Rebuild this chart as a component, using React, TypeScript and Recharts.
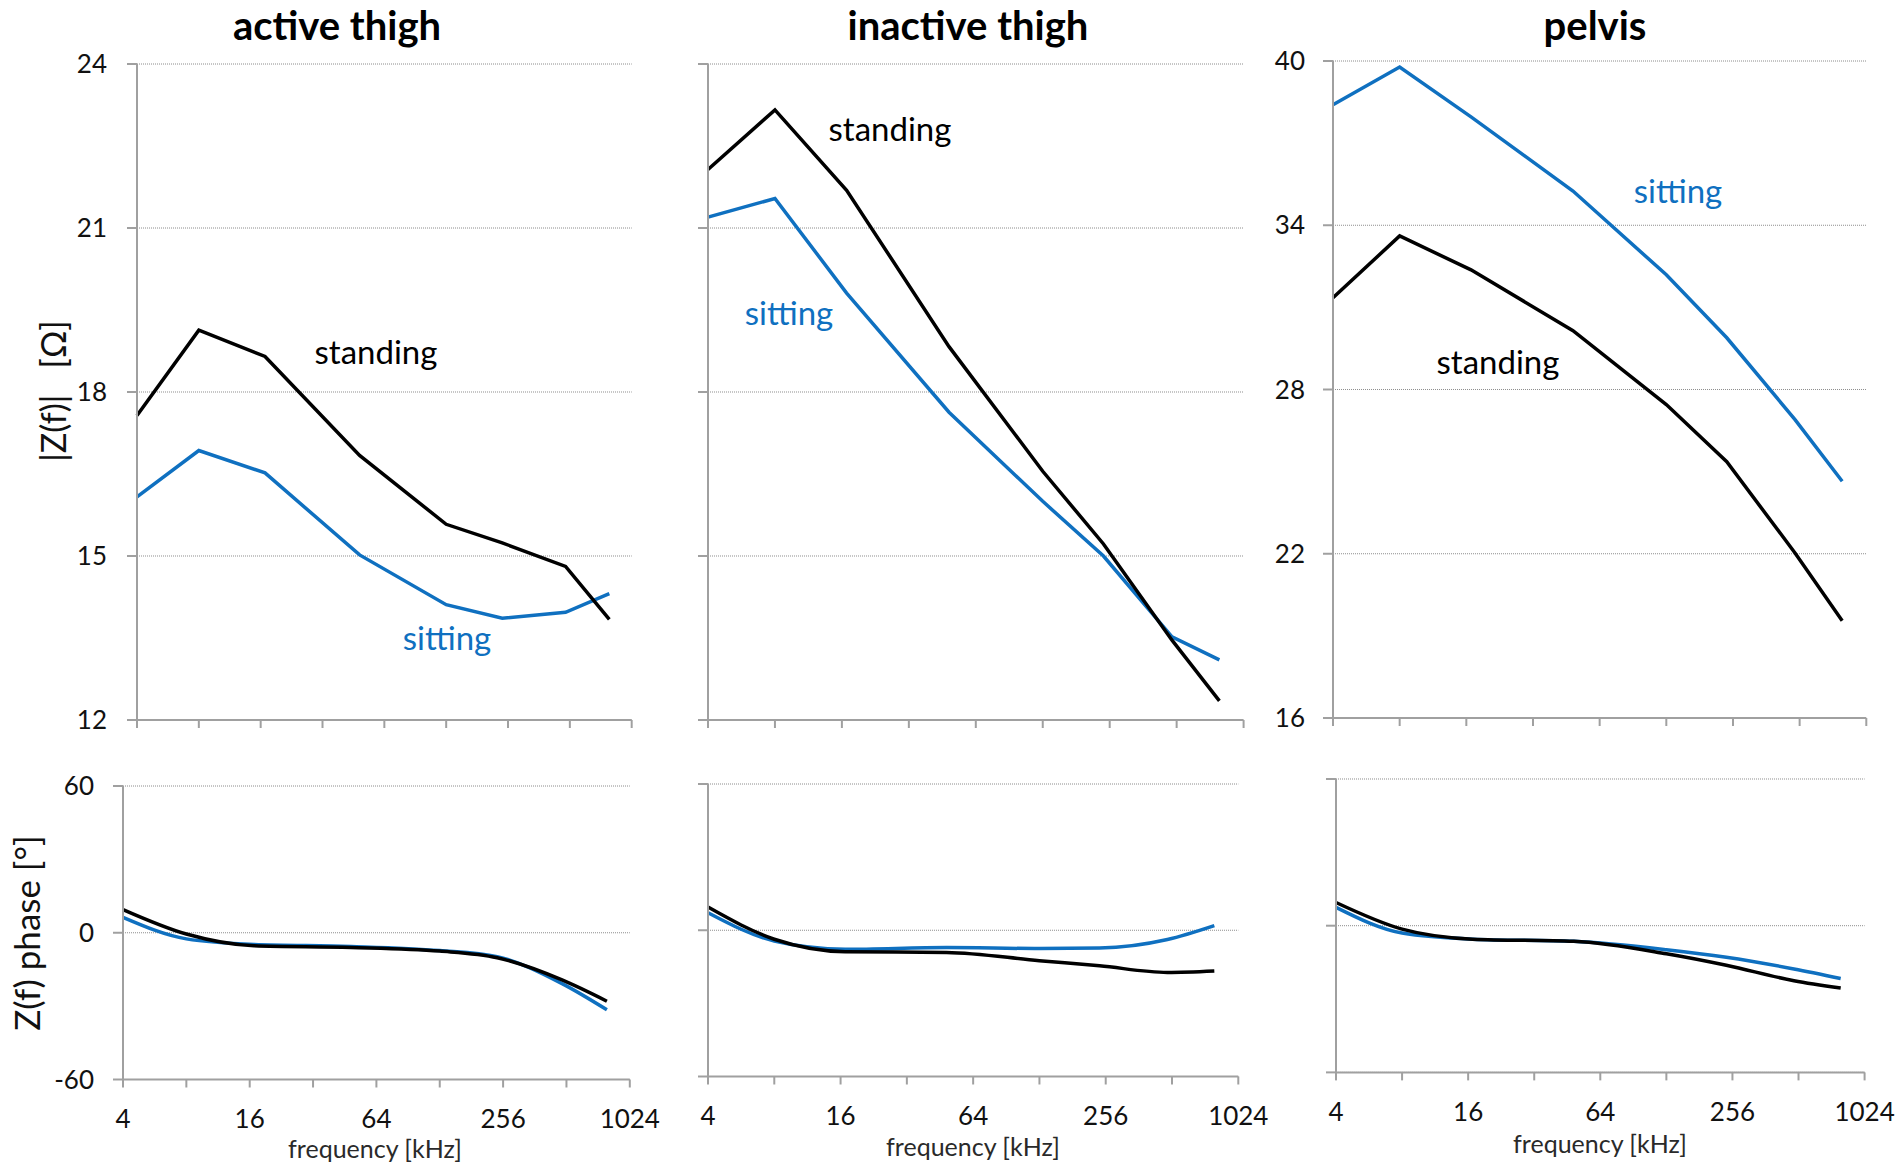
import React from 'react'
import { LineChart, Line, XAxis, YAxis, CartesianGrid } from 'recharts'

// measurement frequencies [kHz]
const freqs = [4, 8, 16.8, 48.5, 128, 240, 488, 797]
const freqTicks = [4, 8, 16, 32, 64, 128, 256, 512, 1024]
const freqLabels = [4, 16, 64, 256, 1024]

// |Z(f)| [Ohm]
const activeStanding = [17.57, 19.13, 18.65, 16.84, 15.58, 15.24, 14.81, 13.84]
const activeSitting = [16.08, 16.93, 16.52, 15.02, 14.11, 13.86, 13.97, 14.31]
const inactiveStanding = [22.07, 23.16, 21.69, 18.83, 16.55, 15.22, 13.46, 12.35]
const inactiveSitting = [21.2, 21.54, 19.81, 17.63, 16.0, 15.0, 13.52, 13.1]
const pelvisStanding = [31.35, 33.61, 32.37, 30.15, 27.45, 25.36, 22.03, 19.55]
const pelvisSitting = [38.4, 39.78, 37.96, 35.25, 32.19, 29.89, 26.9, 24.65]

// phase [deg]
const activePhaseStanding = [9.5, -0.5, -5.3, -6.0, -7.5, -10.2, -19.3, -28]
const activePhaseSitting = [6.3, -2.5, -4.8, -5.6, -7.3, -9.8, -20.8, -31.5]
const inactivePhaseStanding = [9.5, -3.7, -8.8, -9.1, -12.5, -14.6, -17.3, -16.7]
const inactivePhaseSitting = [7.2, -4.4, -7.8, -7.1, -7.5, -7.3, -3.8, 1.9]
const pelvisPhaseStanding = [9.5, -1.4, -5.5, -6.4, -11.5, -16.2, -22.5, -25.5]
const pelvisPhaseSitting = [7.5, -3, -5.5, -6.4, -9.8, -12.9, -17.7, -21.6]

const thighTicks = [12, 15, 18, 21, 24]
const pelvisTicks = [16, 22, 28, 34, 40]
const phaseTicks = [-60, 0, 60]

const blue = '#0f70c0'
const axisGray = '#a0a0a0'
const font = 'Lato, "Open Sans", sans-serif'

type PanelProps = {
  x0: number
  x1: number
  y0: number
  y1: number
  standing: number[]
  sitting: number[]
  yTicks: number[]
  showY: boolean
  showX: boolean
  smooth: boolean
  yTickMargin?: number
}

function Panel({ x0, x1, y0, y1, standing, sitting, yTicks, showY, showX, smooth, yTickMargin = 20 }: PanelProps) {
  const YW = 100
  const MT = 30
  const MR = 60
  const XH = showX ? 70 : 20
  const w = YW + (x1 - x0) + MR
  const h = MT + (y1 - y0) + XH
  const data = freqs.map((f, i) => ({ f, standing: standing[i], sitting: sitting[i] }))
  return (
    <div style={{ position: 'absolute', left: x0 - YW, top: y0 - MT }}>
      <LineChart width={w} height={h} data={data} margin={{ top: MT, right: MR, left: 0, bottom: 0 }}>
        <CartesianGrid vertical={false} stroke="#8c8c8c" strokeDasharray="1 1" />
        <XAxis
          dataKey="f"
          type="number"
          scale="log"
          domain={[4, 1024]}
          ticks={freqTicks}
          interval={0}
          height={XH}
          tickSize={8}
          tickMargin={22}
          tickFormatter={(v: number) => (showX && freqLabels.includes(v) ? String(v) : '')}
          axisLine={{ stroke: axisGray, strokeWidth: 2 }}
          tickLine={{ stroke: axisGray, strokeWidth: 2 }}
          tick={{ fill: '#111', fontSize: 26, fontFamily: font }}
        />
        <YAxis
          type="number"
          domain={[yTicks[0], yTicks[yTicks.length - 1]]}
          ticks={yTicks}
          interval={0}
          width={YW}
          tickSize={10}
          tickMargin={yTickMargin}
          tickFormatter={(v: number) => (showY ? String(v) : '')}
          axisLine={{ stroke: axisGray, strokeWidth: 2 }}
          tickLine={{ stroke: axisGray, strokeWidth: 2 }}
          tick={{ fill: '#111', fontSize: 26, fontFamily: font }}
        />
        <Line
          type={smooth ? 'monotone' : 'linear'}
          dataKey="sitting"
          stroke={blue}
          strokeWidth={3.5}
          dot={false}
          isAnimationActive={false}
        />
        <Line
          type={smooth ? 'monotone' : 'linear'}
          dataKey="standing"
          stroke="#000"
          strokeWidth={3.5}
          dot={false}
          isAnimationActive={false}
        />
      </LineChart>
    </div>
  )
}

export default function App() {
  return (
    <div style={{ position: 'absolute', left: 0, top: 0, width: 1903, height: 1168, background: '#fff', fontFamily: font }}>
      <Panel x0={137} x1={631.7} y0={64} y1={720} standing={activeStanding} sitting={activeSitting} yTicks={thighTicks} showY showX={false} smooth={false} />
      <Panel x0={707.7} x1={1243.3} y0={64} y1={720} standing={inactiveStanding} sitting={inactiveSitting} yTicks={thighTicks} showY={false} showX={false} smooth={false} />
      <Panel x0={1332.7} x1={1866} y0={61} y1={718} standing={pelvisStanding} sitting={pelvisSitting} yTicks={pelvisTicks} showY showX={false} smooth={false} yTickMargin={18} />
      <Panel x0={122.5} x1={629.3} y0={785.5} y1={1079} standing={activePhaseStanding} sitting={activePhaseSitting} yTicks={phaseTicks} showY showX smooth yTickMargin={19} />
      <Panel x0={707.7} x1={1238} y0={784} y1={1076.5} standing={inactivePhaseStanding} sitting={inactivePhaseSitting} yTicks={phaseTicks} showY={false} showX smooth />
      <Panel x0={1335.7} x1={1864.3} y0={779.3} y1={1072.7} standing={pelvisPhaseStanding} sitting={pelvisPhaseSitting} yTicks={phaseTicks} showY={false} showX smooth />

      <svg width={1903} height={1168} style={{ position: 'absolute', left: 0, top: 0, pointerEvents: 'none' }} fontFamily={font}>
        <g fontSize={40} fontWeight="bold" textAnchor="middle" fill="#000">
          <text x={337} y={40}>active thigh</text>
          <text x={968} y={40}>inactive thigh</text>
          <text x={1595} y={40}>pelvis</text>
        </g>
        <g fontSize={33} textAnchor="middle">
          <text x={376} y={364} fill="#000">standing</text>
          <text x={447} y={650} fill={blue}>sitting</text>
          <text x={890} y={141} fill="#000">standing</text>
          <text x={789} y={325} fill={blue}>sitting</text>
          <text x={1678} y={203} fill={blue}>sitting</text>
          <text x={1498} y={374} fill="#000">standing</text>
        </g>
        <g fontSize={34} textAnchor="middle" fill="#111">
          <text xmlSpace="preserve" style={{ whiteSpace: 'pre' }} transform="translate(66,391) rotate(-90)">{'|Z(f)|   [Ω]'}</text>
          <text transform="translate(40,933) rotate(-90)" fontSize={35}>Z(f) phase [°]</text>
        </g>
        <g fontSize={25} textAnchor="middle" fill="#2a2a2a">
          <text x={375} y={1158}>frequency [kHz]</text>
          <text x={973} y={1156}>frequency [kHz]</text>
          <text x={1600} y={1153}>frequency [kHz]</text>
        </g>
      </svg>
    </div>
  )
}
